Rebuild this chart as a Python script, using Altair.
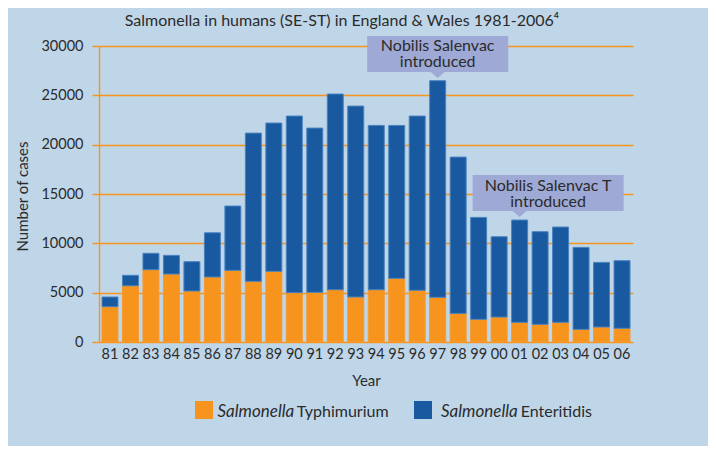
import altair as alt
import pandas as pd

years = ["81", "82", "83", "84", "85", "86", "87", "88", "89", "90", "91", "92", "93",
         "94", "95", "96", "97", "98", "99", "00", "01", "02", "03", "04", "05", "06"]
typhimurium = [3580, 5700, 7330, 6890, 5170, 6590, 7260, 6150, 7160, 5000, 5030, 5300, 4560,
               5300, 6450, 5240, 4530, 2900, 2300, 2530, 1990, 1790, 1990, 1280, 1520, 1390]
enteritidis = [980, 1060, 1660, 1890, 2970, 4480, 6520, 15020, 15030, 17900, 16650, 19830, 19350,
               16650, 15500, 17660, 21950, 15840, 10330, 8140, 10370, 9390, 9660, 8310, 6550, 6850]
series_names = ["Typhimurium", "Enteritidis"]
y_ticks = [0, 5000, 10000, 15000, 20000, 25000, 30000]
annot_years = ["97", "01"]
annot_lines = [["Nobilis Salenvac", "introduced"], ["Nobilis Salenvac T", "introduced"]]
title_text = "Salmonella in humans (SE-ST) in England & Wales 1981-2006\u2074"

ORANGE = "#f7941d"
BLUE = "#1859a0"
BG = "#bfd6e9"
TXT = "#2b2b2b"
FONT = "Lato"
BOXFILL = "#9ea9d5"

rows = []
for i, y in enumerate(years):
    rows.append({"year": y, "series": series_names[0], "cases": typhimurium[i], "ord": 0})
    rows.append({"year": y, "series": series_names[1], "cases": enteritidis[i], "ord": 1})
df = pd.DataFrame(rows)

ann = pd.DataFrame({
    "year": annot_years,
    "top": [typhimurium[years.index(a)] + enteritidis[years.index(a)] for a in annot_years],
    "label": annot_lines,
})

x_enc = alt.X("year:N", sort=years,
              scale=alt.Scale(domain=years, paddingInner=0.22, paddingOuter=0.146),
              axis=alt.Axis(title="Year", labelAngle=0, ticks=False, domain=False, grid=False,
                            labelPadding=5, labelFont=FONT, labelFontSize=14.5, labelColor=TXT,
                            titleFont=FONT, titleFontSize=15, titleFontWeight="normal",
                            titleColor=TXT, titleY=38, titleBaseline="middle"))
y_scale = alt.Scale(domain=[0, 30000], nice=False)

bars = alt.Chart(df).mark_bar(strokeWidth=1).encode(
    x=x_enc,
    y=alt.Y("cases:Q", stack="zero", scale=y_scale,
            axis=alt.Axis(title="Number of cases", values=y_ticks, format="d",
                          grid=True, gridColor=ORANGE, gridWidth=1.4, gridOpacity=1,
                          domain=True, domainColor=ORANGE, domainWidth=1.4,
                          ticks=True, tickColor=ORANGE, tickSize=7, tickWidth=1.4,
                          labelPadding=9, labelFont=FONT, labelFontSize=14.5, labelColor=TXT,
                          titleFont=FONT, titleFontSize=15, titleFontWeight="normal",
                          titleColor=TXT, titleX=-77, titleY=150, titleAngle=270,
                          titleAlign="center", titleBaseline="middle")),
    color=alt.Color("series:N", scale=alt.Scale(domain=series_names, range=[ORANGE, BLUE]),
                    legend=None),
    stroke=alt.Stroke("series:N", scale=alt.Scale(domain=series_names,
                                                  range=["#f59a30", "#4a82bf"]),
                      legend=None),
    order=alt.Order("ord:Q"),
)

box_paths = {
    "97": "M-0.705,-0.447 L0.705,-0.447 L0.705,-0.087 L0.07,-0.087 L0,-0.027 L-0.07,-0.087 L-0.705,-0.087 Z",
    "01": "M-0.47,-0.45 L1.04,-0.45 L1.04,-0.09 L0.07,-0.09 L0,-0.03 L-0.07,-0.09 L-0.47,-0.09 Z",
}
text_off = {"97": (0, -34.7), "01": (28.5, -34)}

title_df = pd.DataFrame({"title": [title_text]})
layers = [bars,
          alt.Chart(title_df).mark_text(align="center", baseline="alphabetic", font=FONT,
                                        fontSize=16, color=TXT).encode(
              x=alt.value(243), y=alt.value(-20), text="title:N")]
for a in annot_years:
    base = alt.Chart(ann).transform_filter(alt.datum.year == a)
    layers.append(base.mark_point(shape=box_paths[a], size=40000, filled=True, fill=BOXFILL,
                                  opacity=1, strokeWidth=0).encode(
        x=alt.X("year:N", sort=years), y=alt.Y("top:Q", scale=y_scale)))
    dx, dy = text_off[a]
    layers.append(base.mark_text(align="center", baseline="middle", dx=dx, dy=dy, lineHeight=15.5,
                                 font=FONT, fontSize=16, color=TXT).encode(
        x=alt.X("year:N", sort=years), y=alt.Y("top:Q", scale=y_scale), text="label"))

# manual legend (italic genus + roman serovar)
leg = [(series_names[0], ORANGE, 105, 118.5, 197.7), (series_names[1], BLUE, 324, 342, 421.7)]
for name, col, sx, tx1, tx2 in leg:
    d = pd.DataFrame({"series": [name], "genus": ["Salmonella"]})
    layers.append(alt.Chart(d).mark_square(size=324, filled=True, color=col, opacity=1).encode(
        x=alt.value(sx), y=alt.value(364)))
    layers.append(alt.Chart(d).mark_text(align="left", baseline="alphabetic", font=FONT,
                                         fontSize=17, fontStyle="italic", color=TXT).encode(
        x=alt.value(tx1), y=alt.value(370.5), text="genus:N"))
    layers.append(alt.Chart(d).mark_text(align="left", baseline="alphabetic", font=FONT,
                                         fontSize=16, color=TXT).encode(
        x=alt.value(tx2), y=alt.value(370.5), text="series:N"))

chart = alt.layer(*layers).properties(
    width=534, height=296,
    autosize=alt.AutoSizeParams(type="none"),
    padding={"left": 91, "top": 38, "right": 75, "bottom": 104},
    background=BG,
).configure_view(stroke=None).configure_axis(labelFlush=False)

chart.save("out.html", embed_options={"renderer": "svg", "actions": False})
